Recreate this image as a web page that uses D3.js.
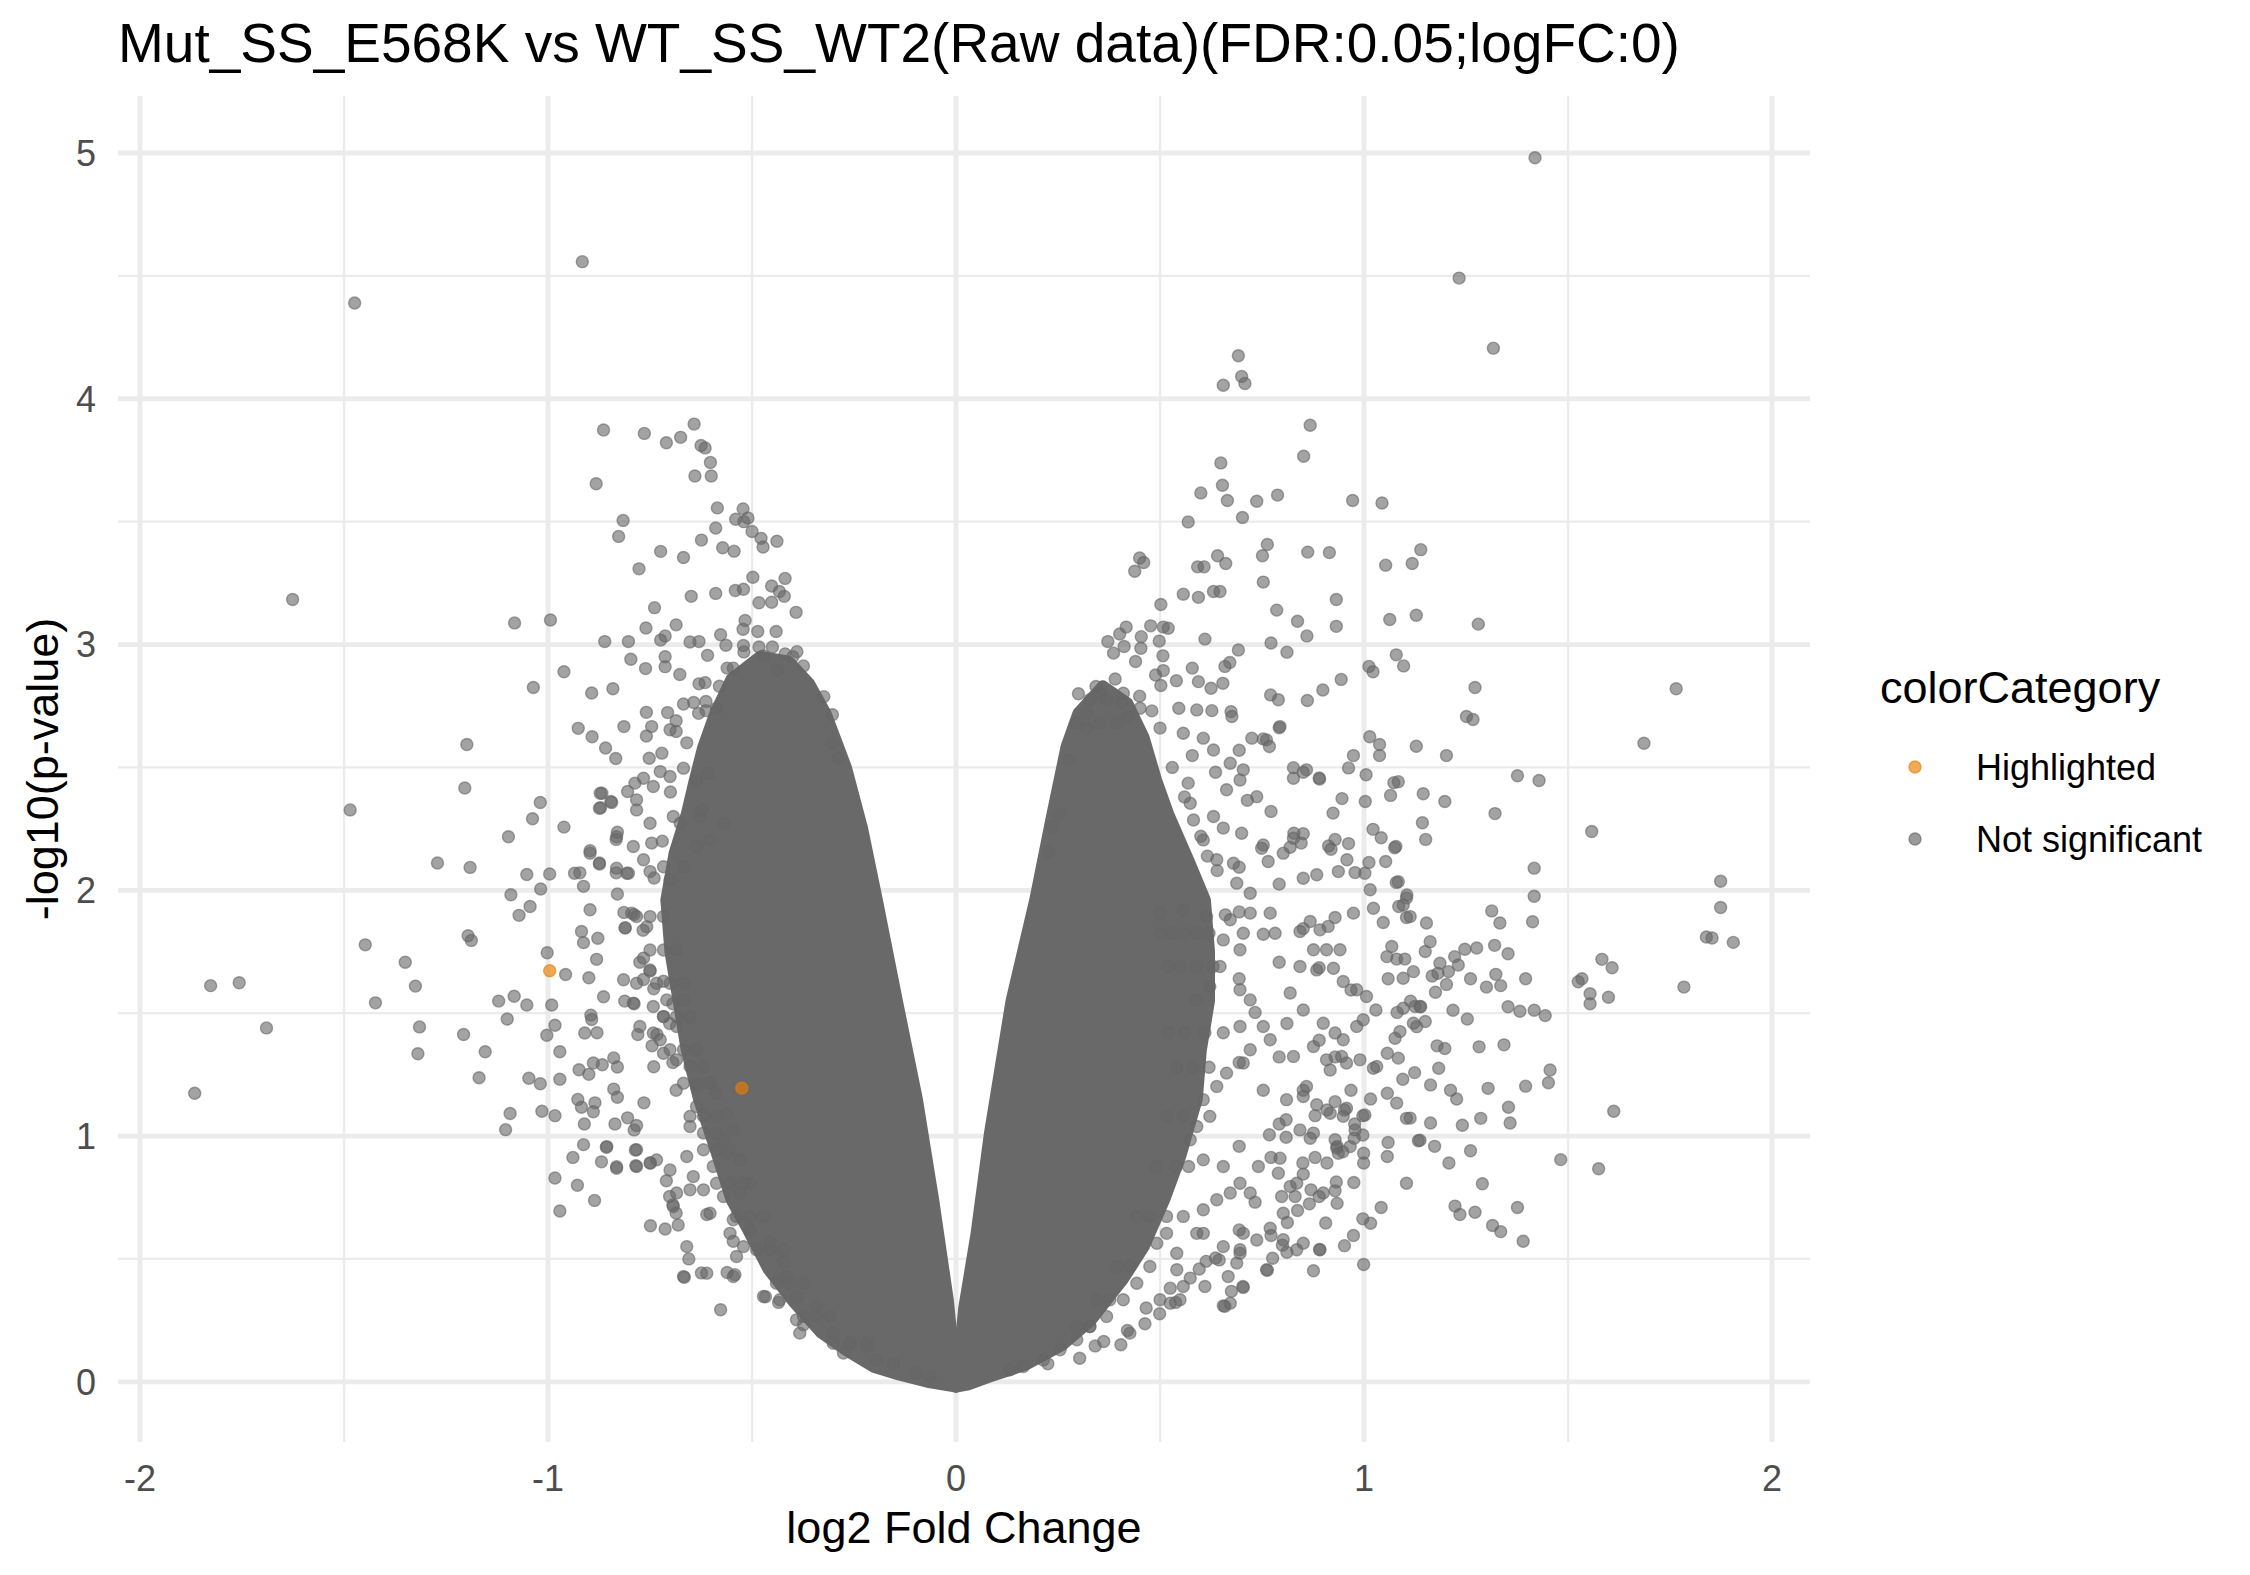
<!DOCTYPE html>
<html>
<head>
<meta charset="utf-8">
<script src="https://cdn.jsdelivr.net/npm/d3@7"></script>
<style>
  body { margin: 0; background: #fff; }
  text { font-family: "Liberation Sans", Arial, Helvetica, sans-serif; }
</style>
</head>
<body>
<svg id="volcano"></svg>
<script>
// Values: [log2 fold change, -log10(p-value)]
const highlighted = [[-0.996, 1.673], [-0.525, 1.195]];

const notSignificant = [
  [-0.916,4.558],[-1.474,4.39],[-1.626,3.183],[-1.082,3.088],[-0.994,3.10],
  [-0.864,3.873],[-0.764,3.859],[-0.710,3.821],[-0.675,3.843],[-0.642,3.897],[-0.615,3.80],[-0.625,3.81],[-0.602,3.741],[-0.64,3.686],[-0.60,3.686],[-0.882,3.654],[-0.585,3.556],[-0.522,3.552],[-0.54,3.51],[-0.52,3.50],[-0.51,3.515],[-0.816,3.505],[-0.827,3.44],[-0.589,3.474],[-0.500,3.46],[-0.478,3.432],[-0.473,3.397],[-0.439,3.42],[-0.624,3.425],[-0.572,3.394],[-0.544,3.38],[-0.724,3.379],[-0.668,3.354],[-0.777,3.308],
  [-0.498,3.274],[-0.541,3.220],[-0.521,3.225],[-0.452,3.238],[-0.419,3.269],[-0.433,3.216],[-0.421,3.196],[-0.483,3.17],[-0.452,3.172],[-0.392,3.131],[-0.589,3.208],[-0.649,3.196],[-0.739,3.150],[-0.686,3.080],[-0.760,3.067],[-0.713,3.035],[-0.724,3.018],[-0.861,3.012],[-0.803,3.012],[-0.652,3.01],[-0.63,3.012],[-0.577,3.04],[-0.564,2.997],[-0.517,3.098],[-0.522,3.062],[-0.486,3.053],[-0.441,3.053],[-0.521,2.996],[-0.483,2.99],[-0.797,2.94],[-0.761,2.902],[-0.713,2.95],[-0.713,2.91],[-0.677,2.878],[-0.63,2.84],[-0.615,2.845],[-0.961,2.889],[-1.036,2.825],[-0.893,2.803],[-0.841,2.82],
  [-0.609,2.956],[-0.472,2.954],[-0.419,2.962],[-0.390,2.971],[-0.374,2.913],[-0.324,2.788],[-0.303,2.714],[-0.302,2.598],[-0.288,2.537],[-0.561,2.904],[-0.546,2.904],[-0.438,2.898],
  [-0.668,2.758],[-0.643,2.764],[-0.613,2.768],[-0.587,2.741],[-0.631,2.720],[-0.613,2.731],[-0.759,2.724],[-0.707,2.723],[-0.686,2.690],[-0.814,2.666],[-0.926,2.659],[-0.892,2.625],[-0.859,2.579],[-0.834,2.536],[-0.759,2.628],[-0.746,2.666],[-0.701,2.653],[-0.686,2.646],[-0.752,2.537],[-0.721,2.558],[-0.725,2.483],[-0.701,2.463],[-0.668,2.497],[-0.636,2.449],[-0.607,2.476],[-0.742,2.422],[-0.766,2.456],[-0.787,2.436],[-0.805,2.402],[-0.783,2.368],[-0.868,2.395],[-0.844,2.357],[-0.874,2.334],[-0.783,2.327],[-0.750,2.273],[-0.693,2.300],[-0.676,2.273],[-0.627,2.300],[-0.623,2.327],[-0.570,2.273],[-0.832,2.218],[-0.897,2.151],[-0.874,2.107],[-0.935,2.069],[-0.791,2.178],[-0.746,2.192],[-0.766,2.124],[-0.717,2.096],[-0.832,2.090],[-0.807,2.069],[-0.750,2.076],[-0.701,2.042],[-0.668,2.096],[-0.636,2.178],[-0.603,2.205],
  [-1.827,1.612],[-1.757,1.624],[-1.690,1.440],[-1.866,1.174],[-1.485,2.327],[-1.448,1.778],[-1.423,1.542],[-1.350,1.707],[-1.325,1.610],[-1.315,1.444],[-1.319,1.335],[-1.271,2.111],[-1.204,2.416],[-1.199,2.593],[-1.191,2.093],[-1.196,1.815],[-1.188,1.796],[-1.207,1.413],[-1.154,1.343],[-1.169,1.237],[-1.097,2.218],[-1.038,2.291],[-1.019,2.357],[-0.961,2.257],[-1.052,2.064],[-0.996,2.066],[-1.018,2.005],[-1.091,1.982],[-1.044,1.934],[-1.071,1.898],[-1.002,1.746],[-0.957,1.657],[-1.121,1.549],[-1.083,1.569],[-1.052,1.533],[-0.991,1.533],[-1.100,1.476],[-0.983,1.451],[-1.003,1.410],[-0.971,1.343],[-1.047,1.235],[-1.019,1.213],[-0.971,1.231],[-1.093,1.092],[-1.104,1.026],[-1.015,1.101],[-0.983,1.083],[-0.983,0.829],[-0.971,0.695],[-0.928,0.800],[-0.939,0.913],[-0.869,0.895],[-0.913,0.965],[-0.857,0.954],[-0.886,0.738],[-0.832,0.875],[-0.786,0.943],[-0.785,0.879],[-0.749,0.890],[-0.710,0.818],[-0.702,0.754],[-0.694,0.720],[-0.686,0.687],[-0.749,0.635],[-0.713,0.622],[-0.681,0.638],[-0.655,0.50],[-0.666,0.425],[-0.624,0.443],[-0.577,0.293],[-0.660,0.550],[-0.611,0.681],[-0.546,0.572],[-0.561,0.445],[-0.542,0.436],[-0.467,0.346],[-0.435,0.323],[-0.389,0.346],[-0.374,0.232],
  [-0.918,1.832],[-0.878,1.805],[-0.881,1.719],[-0.913,1.787],[-0.897,1.921],[-0.922,2.071],[-0.913,2.016],[-0.897,2.161],[-0.874,2.111],[-0.871,2.336],[-0.846,2.361],[-0.872,2.395],[-0.833,2.207],[-0.830,2.236],[-0.833,2.071],[-0.803,2.069],[-0.830,1.985],[-0.811,1.848],[-0.814,1.910],[-0.789,1.901],[-0.767,1.837],[-0.900,1.644],[-0.864,1.567],[-0.895,1.492],[-0.893,1.474],[-0.910,1.419],[-0.880,1.420],[-0.889,1.297],[-0.867,1.290],[-0.924,1.270],[-0.900,1.251],[-0.927,1.149],[-0.885,1.135],[-0.918,1.117],[-0.889,1.099],[-0.911,1.049],[-0.836,1.049],[-0.839,1.191],[-0.830,1.158],[-0.789,1.025],[-0.805,1.074],[-0.783,1.043],[-0.765,1.135],[-0.839,1.318],[-0.830,1.281],[-0.812,1.549],[-0.789,1.538],[-0.775,1.707],[-0.750,1.671],[-0.766,1.637],[-0.741,1.599],[-0.780,1.413],[-0.745,1.367],[-0.733,1.413],[-0.717,1.63],[-0.694,1.538],[-0.702,1.458],[-0.741,1.282],[-0.694,1.299],[-0.686,1.186],
  [-0.811,1.846],[-0.795,1.907],[-0.758,1.852],[-0.766,1.724],[-0.750,1.676],[-0.783,1.622],[-0.815,1.636],[-0.791,1.541],[-0.742,1.527],[-0.709,1.554],[-0.668,1.554],[-0.717,1.486],[-0.685,1.446],[-0.775,1.446],[-0.742,1.419],[-0.725,1.392],[-0.717,1.337],[-0.685,1.310],[-0.652,1.283],[-0.619,1.283],[-0.636,1.202],[-0.603,1.215],[-0.587,1.175],[-0.636,1.120],[-0.652,1.039],[-0.619,1.012],[-0.587,1.012],[-0.562,1.093],[-0.570,0.985],[-0.546,1.025],[-0.562,0.930],[-0.529,0.903],[-0.595,0.876],[-0.644,0.835],[-0.619,0.781],[-0.570,0.754],[-0.529,0.768],[-0.505,0.808],[-0.660,0.917],[-0.701,0.862],[-0.750,0.890],[-0.783,0.876],[-0.832,0.869],[-0.856,0.957],[-0.783,0.944],[-0.734,0.903],[-0.685,0.768],[-0.693,0.713],[-0.652,0.781],[-0.603,0.686],[-0.546,0.659],[-0.554,0.604],[-0.505,0.618],[-0.521,0.550],[-0.538,0.510],[-0.668,0.428],[-0.611,0.442],[-0.546,0.428],[-0.472,0.347],[-0.432,0.334],[-0.391,0.252],[-0.383,0.198],[-0.276,0.117],[-0.219,0.144],[-0.423,0.488],[-0.456,0.569],[-0.415,0.428],[-0.342,0.306],[-0.301,0.198],[-0.260,0.157],[-0.194,0.089],[-0.154,0.075],[-0.097,0.035],[-0.064,0.021],
  [-0.783,1.893],[-0.750,1.893],[-0.717,1.893],[-0.750,1.757],[-0.717,1.757],[-0.685,1.757],[-0.734,1.622],[-0.701,1.622],[-0.668,1.622],[-0.717,1.486],[-0.685,1.486],[-0.652,1.486],[-0.701,1.351],[-0.668,1.351],[-0.636,1.351],[-0.668,1.215],[-0.636,1.215],[-0.603,1.215],[-0.652,1.080],[-0.619,1.080],[-0.587,1.080],[-0.619,0.944],[-0.587,0.944],[-0.554,0.944],[-0.587,0.808],[-0.554,0.808],[-0.521,0.808],[-0.538,0.673],[-0.505,0.673],[-0.472,0.673],[-0.489,0.537],[-0.456,0.537],[-0.423,0.537],[-0.440,0.401],[-0.407,0.401],[-0.374,0.401],[-0.374,0.266],[-0.342,0.266],[-0.309,0.266],[-0.301,0.157],[-0.260,0.157],[-0.219,0.157],
  [-0.58,2.83],[-0.52,2.97],[-0.45,2.99],[-0.40,2.95],[-0.66,2.60],[-0.70,2.40],[-0.72,2.20],[-0.74,2.05],
  [1.419,4.981],[1.233,4.491],[1.317,4.206],[0.692,4.175],[0.700,4.091],[0.708,4.062],[0.655,4.055],[0.868,3.892],[0.852,3.766],[0.649,3.739],[0.653,3.648],[0.600,3.617],[0.665,3.586],[0.737,3.583],[0.788,3.608],[0.972,3.586],[1.044,3.576],[0.702,3.517],[0.569,3.499],[0.763,3.407],[0.751,3.361],[0.862,3.376],[0.915,3.374],[1.053,3.323],[1.118,3.330],[1.139,3.386],[0.450,3.352],[0.460,3.334],[0.438,3.298],[0.592,3.316],[0.608,3.316],[0.641,3.361],[0.661,3.330],[0.753,3.254],[0.631,3.216],[0.647,3.216],[0.557,3.205],[0.594,3.192],[0.502,3.163],[0.932,3.183],[0.932,3.074],[0.786,3.140],[0.837,3.095],[0.860,3.035],[1.063,3.102],[1.128,3.119],[1.280,3.083],[0.772,3.006],[0.811,2.969],[0.692,2.978],[0.671,2.927],[0.659,2.911],[0.579,2.904],[0.540,2.853],[0.508,2.894],[0.477,3.076],[0.508,3.071],[0.417,3.071],[0.372,3.012],[0.401,3.043],[0.454,3.032],[0.498,3.014],[0.610,3.022],[1.012,2.911],[1.022,2.889],[1.079,2.958],[1.097,2.913],[0.944,2.858],[0.899,2.815],[1.272,2.825],[1.765,2.820],
  [0.520,3.066],[0.412,2.992],[0.386,2.965],[0.453,2.985],[0.507,2.954],[0.440,2.931],[0.489,2.876],[0.502,2.833],[0.594,2.849],[0.625,2.822],[0.654,2.842],[0.771,2.795],[0.790,2.775],[0.861,2.772],[1.084,2.442],[0.827,2.499],[0.859,2.490],[0.891,2.453],[0.827,2.456],[0.828,2.232],[0.846,2.192],[0.819,2.175],[0.919,2.167],[0.958,2.124],[1.012,2.113],[1.078,2.178],[1.042,2.214],[0.937,2.076],[0.978,2.072],[1.002,2.069],[0.884,2.063],[0.851,2.049],[1.084,2.035],[1.015,2.002],[1.105,1.981],[0.725,2.619],[0.761,2.612],[0.768,2.585],[0.794,2.666],[0.546,2.741],[0.590,2.734],[0.627,2.731],[0.674,2.727],[0.676,2.707],[0.557,2.639],[0.606,2.619],[0.631,2.571],[0.672,2.517],[0.704,2.490],[0.737,2.381],[0.700,2.232],[0.749,2.171],[0.802,2.151],[0.827,2.212],[0.765,2.117],[0.680,2.110],[0.569,2.436],[0.574,2.354],[0.582,2.286],[0.606,2.205],[0.639,2.124],[0.688,2.029],[0.721,1.988],[0.631,2.300],[0.663,2.409],[0.696,2.449],[0.343,2.829],[0.353,2.802],[0.369,2.775],[0.328,2.775],[0.410,2.802],[0.406,2.764],[0.451,2.741],[0.480,2.730],[0.422,2.707],[0.394,2.680],[0.320,2.720],[0.296,2.680],[0.320,2.659],[0.353,2.680],[0.278,2.531],[0.251,2.307],[0.235,2.259],[0.227,2.158],
  [1.686,2.598],[1.251,2.707],[1.267,2.695],[1.128,2.586],[1.202,2.548],[1.014,2.625],[1.038,2.593],[1.038,2.548],[0.974,2.548],[0.962,2.498],[1.005,2.470],[1.376,2.466],[1.429,2.447],[1.321,2.312],[1.558,2.239],[1.145,2.393],[1.198,2.361],[1.143,2.275],[1.151,2.207],[1.065,2.386],[1.073,2.438],[0.946,2.373],[1.003,2.361],[0.924,2.314],[1.022,2.248],[1.075,2.173],[1.053,2.117],[0.962,2.190],[0.913,2.180],
  [1.874,2.037],[1.874,1.930],[1.839,1.810],[1.853,1.806],[1.905,1.788],[1.784,1.606],[1.417,2.090],[1.417,1.976],[1.413,1.872],[1.313,1.916],[1.333,1.867],[1.153,1.867],[1.079,2.032],[1.104,1.969],[1.085,1.934],[1.104,1.889],[1.583,1.719],[1.608,1.685],[1.534,1.640],[1.525,1.628],[1.554,1.579],[1.554,1.538],[1.599,1.565],[1.612,1.101],[1.482,0.904],[1.575,0.867],
  [1.396,1.640],[1.353,1.742],[1.320,1.776],[1.276,1.765],[1.247,1.760],[1.222,1.730],[1.231,1.696],[1.181,1.662],[1.202,1.617],[1.261,1.640],[1.300,1.606],[1.323,1.658],[1.335,1.612],[1.353,1.526],[1.382,1.508],[1.417,1.512],[1.444,1.490],[1.218,1.512],[1.253,1.476],[1.175,1.585],[1.139,1.526],[1.081,1.503],[1.114,1.549],[1.059,1.640],[1.167,1.651],
  [1.179,1.367],[1.198,1.356],[1.282,1.363],[1.343,1.371],[1.183,1.276],[1.124,1.258],[1.095,1.231],[1.163,1.208],[1.212,1.186],[1.227,1.151],[1.304,1.194],[1.396,1.203],[1.452,1.217],[1.456,1.269],[1.354,1.117],[1.358,1.053],[1.286,1.072],[1.241,1.044],[1.163,1.053],[1.104,1.072],[1.133,0.981],[1.173,0.958],[1.208,0.890],[1.261,0.940],[1.290,0.806],[1.223,0.715],[1.235,0.681],[1.272,0.690],[1.315,0.636],[1.335,0.611],[1.376,0.709],[1.390,0.572],[1.104,0.808],[1.042,0.709],[0.997,0.663],[1.016,0.645],[0.999,0.477],[0.974,0.595],[0.952,0.554],[0.876,0.452],[0.891,0.538],[0.934,0.726],[0.866,0.724],[0.800,0.556],[0.763,0.454],[0.704,0.384],[0.659,0.307],[1.059,0.974],[1.057,0.917],[1.137,0.983],[0.932,0.813],[0.975,0.811],[0.850,0.890],[0.880,0.913],[0.909,0.890],[0.934,0.958],[0.948,0.936],[0.997,1.004],[0.977,1.049],[0.880,1.083],[0.909,1.106],[0.952,1.106],[0.997,1.083],[0.968,1.186],[1.016,1.151],[1.057,1.174],[0.831,0.754],[0.929,0.777],
  [0.341,0.146],[0.404,0.151],[0.426,0.198],[0.463,0.236],[0.466,0.300],[0.500,0.334],[0.525,0.320],[0.549,0.334],[0.655,0.309],[0.672,0.320],[0.703,0.388],[0.667,0.428],[0.688,0.483],[0.613,0.490],[0.645,0.496],[0.574,0.422],[0.610,0.388],[0.541,0.456],[0.525,0.381],[0.557,0.388],[0.761,0.456],[0.776,0.503],[0.906,0.646],[0.835,0.537],[0.802,0.578],[0.770,0.625],[0.812,0.648],[0.837,0.697],[0.798,0.754],[0.933,0.951],[0.937,0.930],[0.999,0.890],[0.999,0.930],[0.976,0.991],[0.978,1.025],[0.929,0.985],[0.868,0.991],[0.809,0.995],[0.768,1.005],[0.809,1.066],[0.876,1.012],[0.794,0.910],[0.790,0.849],[0.819,0.795],[0.870,0.781],[0.890,0.754],[0.835,0.808],
  [1.162,1.791],[1.150,1.751],[1.186,1.703],[1.207,1.669],[1.113,1.073],[1.080,1.134],[1.084,1.317],[1.057,1.337],[1.023,1.276],[1.029,1.513],[1.076,1.398],[1.088,1.425],[1.121,1.459],[1.129,1.445],[1.096,1.520],[1.125,1.527],[1.137,1.527],[1.150,1.466],[1.121,1.669],[1.096,1.642],[1.056,1.730],[1.080,1.720],[1.100,1.720],[1.068,1.771],[1.047,1.869],[1.023,1.927],[1.113,1.893],[1.096,1.94],
  [0.843,1.832],[0.868,1.873],[0.892,1.839],[0.912,1.853],[0.876,1.758],[0.908,1.758],[0.941,1.758],[0.974,1.907],[0.843,1.690],[0.884,1.676],[0.925,1.683],[0.949,1.629],[0.982,1.595],[1.006,1.568],[0.819,1.582],[0.851,1.513],[0.900,1.459],[0.929,1.419],[0.949,1.392],[0.998,1.473],[0.982,1.446],[0.827,1.324],[0.876,1.364],[0.908,1.310],[0.945,1.324],[0.957,1.297],[0.990,1.310],[1.031,1.283],[0.917,1.269],[0.859,1.202],[0.810,1.148],[0.851,1.161],[0.884,1.127],[0.917,1.093],[0.949,1.080],[0.957,1.113],[1.002,1.086],[0.843,1.025],[0.741,0.876],[0.900,0.768],[0.966,0.957],[0.892,0.537],[0.851,0.564],[0.802,0.686],[0.704,0.604],[0.737,0.577],[0.696,0.523],
  [0.500,1.907],[0.557,1.920],[0.614,1.893],[0.672,1.880],[0.704,1.825],[0.721,1.907],[0.770,1.907],[0.782,1.825],[0.696,1.758],[0.647,1.690],[0.622,1.608],[0.590,1.554],[0.696,1.595],[0.721,1.554],[0.696,1.446],[0.753,1.446],[0.770,1.392],[0.721,1.351],[0.704,1.297],[0.663,1.256],[0.639,1.202],[0.606,1.148],[0.622,1.080],[0.590,1.039],[0.574,0.985],[0.606,0.903],[0.655,0.876],[0.696,0.808],[0.721,0.768],[0.672,0.768],[0.639,0.741],[0.606,0.700],[0.557,0.673],[0.516,0.604],[0.492,0.564],[0.541,0.523],[0.606,0.604],[0.655,0.550],[0.696,0.537],[0.590,0.604],[0.475,0.469],[0.443,0.401],[0.410,0.334],[0.369,0.266],[0.328,0.225],[0.296,0.171],[0.255,0.130],[0.214,0.089],[0.165,0.062],[0.132,0.049],
  [0.579,2.548],[0.636,2.480],[0.694,2.570],[0.753,2.616],[0.792,2.661],[0.851,2.480],[0.890,2.457],[0.772,2.321],[0.714,2.366],[0.655,2.253],[0.616,2.139],[0.694,2.094],[0.753,2.184],[0.851,2.230],[0.929,2.207],[0.792,2.025],[0.694,1.912],[0.655,1.798],[0.753,1.821],[0.851,1.844],[0.929,1.889],[0.792,1.707],[0.694,1.640],[0.890,1.685],[0.968,1.594],[0.733,1.503],[0.811,1.458],[0.890,1.390],[0.929,1.322],[0.792,1.322],[0.694,1.299],[0.753,1.186],[0.851,1.186],[0.929,1.140],[0.792,1.049],[0.694,0.958],[0.772,0.913],[0.851,0.845],[0.733,0.731],[0.694,0.618],[0.772,0.595],[0.811,0.527],[0.636,0.504],[0.675,0.368],[0.596,0.459],[0.538,0.323],[0.499,0.277],[0.420,0.209],[0.362,0.164],[0.303,0.096],[0.225,0.073],
  [0.50,1.825],[0.53,1.825],[0.56,1.825],[0.59,1.825],[0.62,1.825],[0.52,1.69],[0.55,1.69],[0.59,1.69],[0.63,1.69],[0.52,1.42],[0.56,1.42],[0.61,1.42],[0.655,1.42],[0.54,1.28],[0.58,1.28],[0.62,1.28],[0.516,1.08],[0.557,1.08],[0.49,0.876],[0.54,0.876],[0.57,0.876],[0.443,0.673],[0.475,0.673],[0.516,0.673],[0.394,0.469],[0.426,0.469],[0.345,0.334],[0.377,0.334],[0.296,0.225],[0.328,0.225],
  [0.30,2.80],[0.39,2.86],[0.45,2.79],[0.50,2.66],[0.53,2.50],[0.56,2.38],[0.60,2.22],[0.64,2.08],[0.66,1.90]
];

// Outline of the solid overplotted core (thousands of overlapping points)
const coreLeft = [
  [0,-0.02],[-0.07,0.0],[-0.14,0.03],[-0.20,0.06],[-0.27,0.13],[-0.33,0.20],[-0.40,0.33],[-0.46,0.46],[-0.51,0.62],
  [-0.55,0.74],[-0.59,0.95],[-0.63,1.15],[-0.66,1.35],[-0.68,1.55],[-0.70,1.75],[-0.71,1.96],[-0.69,2.15],[-0.66,2.31],
  [-0.64,2.45],[-0.62,2.58],[-0.59,2.72],[-0.55,2.86],[-0.48,2.95],[-0.41,2.93],[-0.36,2.84],[-0.32,2.72],[-0.27,2.50],
  [-0.23,2.25],[-0.194,1.96],[-0.145,1.55],[-0.096,1.15],[-0.056,0.74],[-0.02,0.33],[-0.005,0.08]
];
const coreRight = [
  [0.005,0.05],[0.02,0.30],[0.05,0.60],[0.083,1.01],[0.136,1.55],[0.194,1.96],[0.235,2.30],[0.271,2.585],[0.30,2.72],
  [0.36,2.83],[0.42,2.76],[0.46,2.62],[0.49,2.45],[0.52,2.31],[0.57,2.12],[0.61,1.96],[0.62,1.75],[0.62,1.55],
  [0.60,1.35],[0.59,1.15],[0.55,0.92],[0.51,0.74],[0.46,0.55],[0.41,0.42],[0.33,0.25],[0.26,0.15],[0.17,0.07],
  [0.08,0.02],[0.03,-0.01],[0,-0.02]
];

const xTicks = [-2, -1, 0, 1, 2];
const xMinor = [-1.5, -0.5, 0.5, 1.5];
const yTicks = [0, 1, 2, 3, 4, 5];
const yMinor = [0.5, 1.5, 2.5, 3.5, 4.5];
const categories = ["Highlighted", "Not significant"];
const categoryColors = ["#e67e00", "#666666"];

// Chart dimensions (panel placed like the ggplot output)
const W = 2250, H = 1575;
const panel = { left: 118, right: 1810, top: 96, bottom: 1442 };

const x = d3.scaleLinear().domain([-2.054, 2.093]).range([panel.left, panel.right]);
const y = d3.scaleLinear().domain([-0.245, 5.232]).range([panel.bottom, panel.top]);

const svg = d3.select("#volcano")
  .attr("width", W)
  .attr("height", H)
  .attr("viewBox", `0 0 ${W} ${H}`);

svg.append("rect").attr("width", W).attr("height", H).attr("fill", "#fff");

// Grid lines (minor first, then major)
const grid = svg.append("g").attr("stroke", "#ebebeb");
grid.selectAll(".ymin").data(yMinor).join("line")
  .attr("x1", panel.left).attr("x2", panel.right)
  .attr("y1", d => y(d)).attr("y2", d => y(d))
  .attr("stroke-width", 2.4);
grid.selectAll(".xmin").data(xMinor).join("line")
  .attr("y1", panel.top).attr("y2", panel.bottom)
  .attr("x1", d => x(d)).attr("x2", d => x(d))
  .attr("stroke-width", 2.4);
grid.selectAll(".ymaj").data(yTicks).join("line")
  .attr("x1", panel.left).attr("x2", panel.right)
  .attr("y1", d => y(d)).attr("y2", d => y(d))
  .attr("stroke-width", 4.8);
grid.selectAll(".xmaj").data(xTicks).join("line")
  .attr("y1", panel.top).attr("y2", panel.bottom)
  .attr("x1", d => x(d)).attr("x2", d => x(d))
  .attr("stroke-width", 4.8);

const plot = svg.append("g");

// Overplotted core
const coreLine = d3.line().x(d => x(d[0])).y(d => y(d[1])).curve(d3.curveLinearClosed);
plot.selectAll(".core").data([coreLeft, coreRight]).join("path")
  .attr("d", coreLine)
  .attr("fill", "#696969")
  .attr("stroke", "#696969")
  .attr("stroke-width", 12)
  .attr("stroke-linejoin", "round");

// Highlighted points sit under the scattered grey ones
plot.selectAll(".hl").data(highlighted).join("circle")
  .attr("cx", d => x(d[0])).attr("cy", d => y(d[1]))
  .attr("r", 6)
  .attr("fill", categoryColors[0]).attr("fill-opacity", 0.65)
  .attr("stroke", categoryColors[0]).attr("stroke-opacity", 0.65).attr("stroke-width", 1.4);

// Scattered points
plot.selectAll(".ns").data(notSignificant).join("circle")
  .attr("cx", d => x(d[0])).attr("cy", d => y(d[1]))
  .attr("r", 6)
  .attr("fill", categoryColors[1]).attr("fill-opacity", 0.6)
  .attr("stroke", categoryColors[1]).attr("stroke-opacity", 0.6).attr("stroke-width", 1.4);

// Tick labels
svg.append("g").selectAll("text").data(xTicks).join("text")
  .attr("x", d => x(d)).attr("y", 1491)
  .attr("text-anchor", "middle")
  .attr("font-size", 36).attr("fill", "#4d4d4d")
  .text(d => d);
svg.append("g").selectAll("text").data(yTicks).join("text")
  .attr("x", 96).attr("y", d => y(d)).attr("dy", "0.36em")
  .attr("text-anchor", "end")
  .attr("font-size", 36).attr("fill", "#4d4d4d")
  .text(d => d);

// Titles
svg.append("text")
  .attr("x", panel.left).attr("y", 62)
  .attr("font-size", 55).attr("fill", "#000")
  .text("Mut_SS_E568K vs WT_SS_WT2(Raw data)(FDR:0.05;logFC:0)");
svg.append("text")
  .attr("x", (panel.left + panel.right) / 2).attr("y", 1543)
  .attr("text-anchor", "middle")
  .attr("font-size", 45).attr("fill", "#000")
  .text("log2 Fold Change");
svg.append("text")
  .attr("transform", `translate(58, ${(panel.top + panel.bottom) / 2}) rotate(-90)`)
  .attr("text-anchor", "middle")
  .attr("font-size", 45).attr("fill", "#000")
  .text("-log10(p-value)");

// Legend
const legend = svg.append("g");
legend.append("text")
  .attr("x", 1880).attr("y", 703)
  .attr("font-size", 45).attr("fill", "#000")
  .text("colorCategory");
const keys = legend.selectAll(".key").data(categories).join("g")
  .attr("transform", (d, i) => `translate(1915, ${767 + i * 72})`);
keys.append("circle")
  .attr("r", 6)
  .attr("fill", (d, i) => categoryColors[i]).attr("fill-opacity", 0.65)
  .attr("stroke", (d, i) => categoryColors[i]).attr("stroke-opacity", 0.65).attr("stroke-width", 1.4);
keys.append("text")
  .attr("x", 61).attr("y", 12.5)
  .attr("font-size", 36).attr("fill", "#000")
  .text(d => d);
</script>
</body>
</html>
